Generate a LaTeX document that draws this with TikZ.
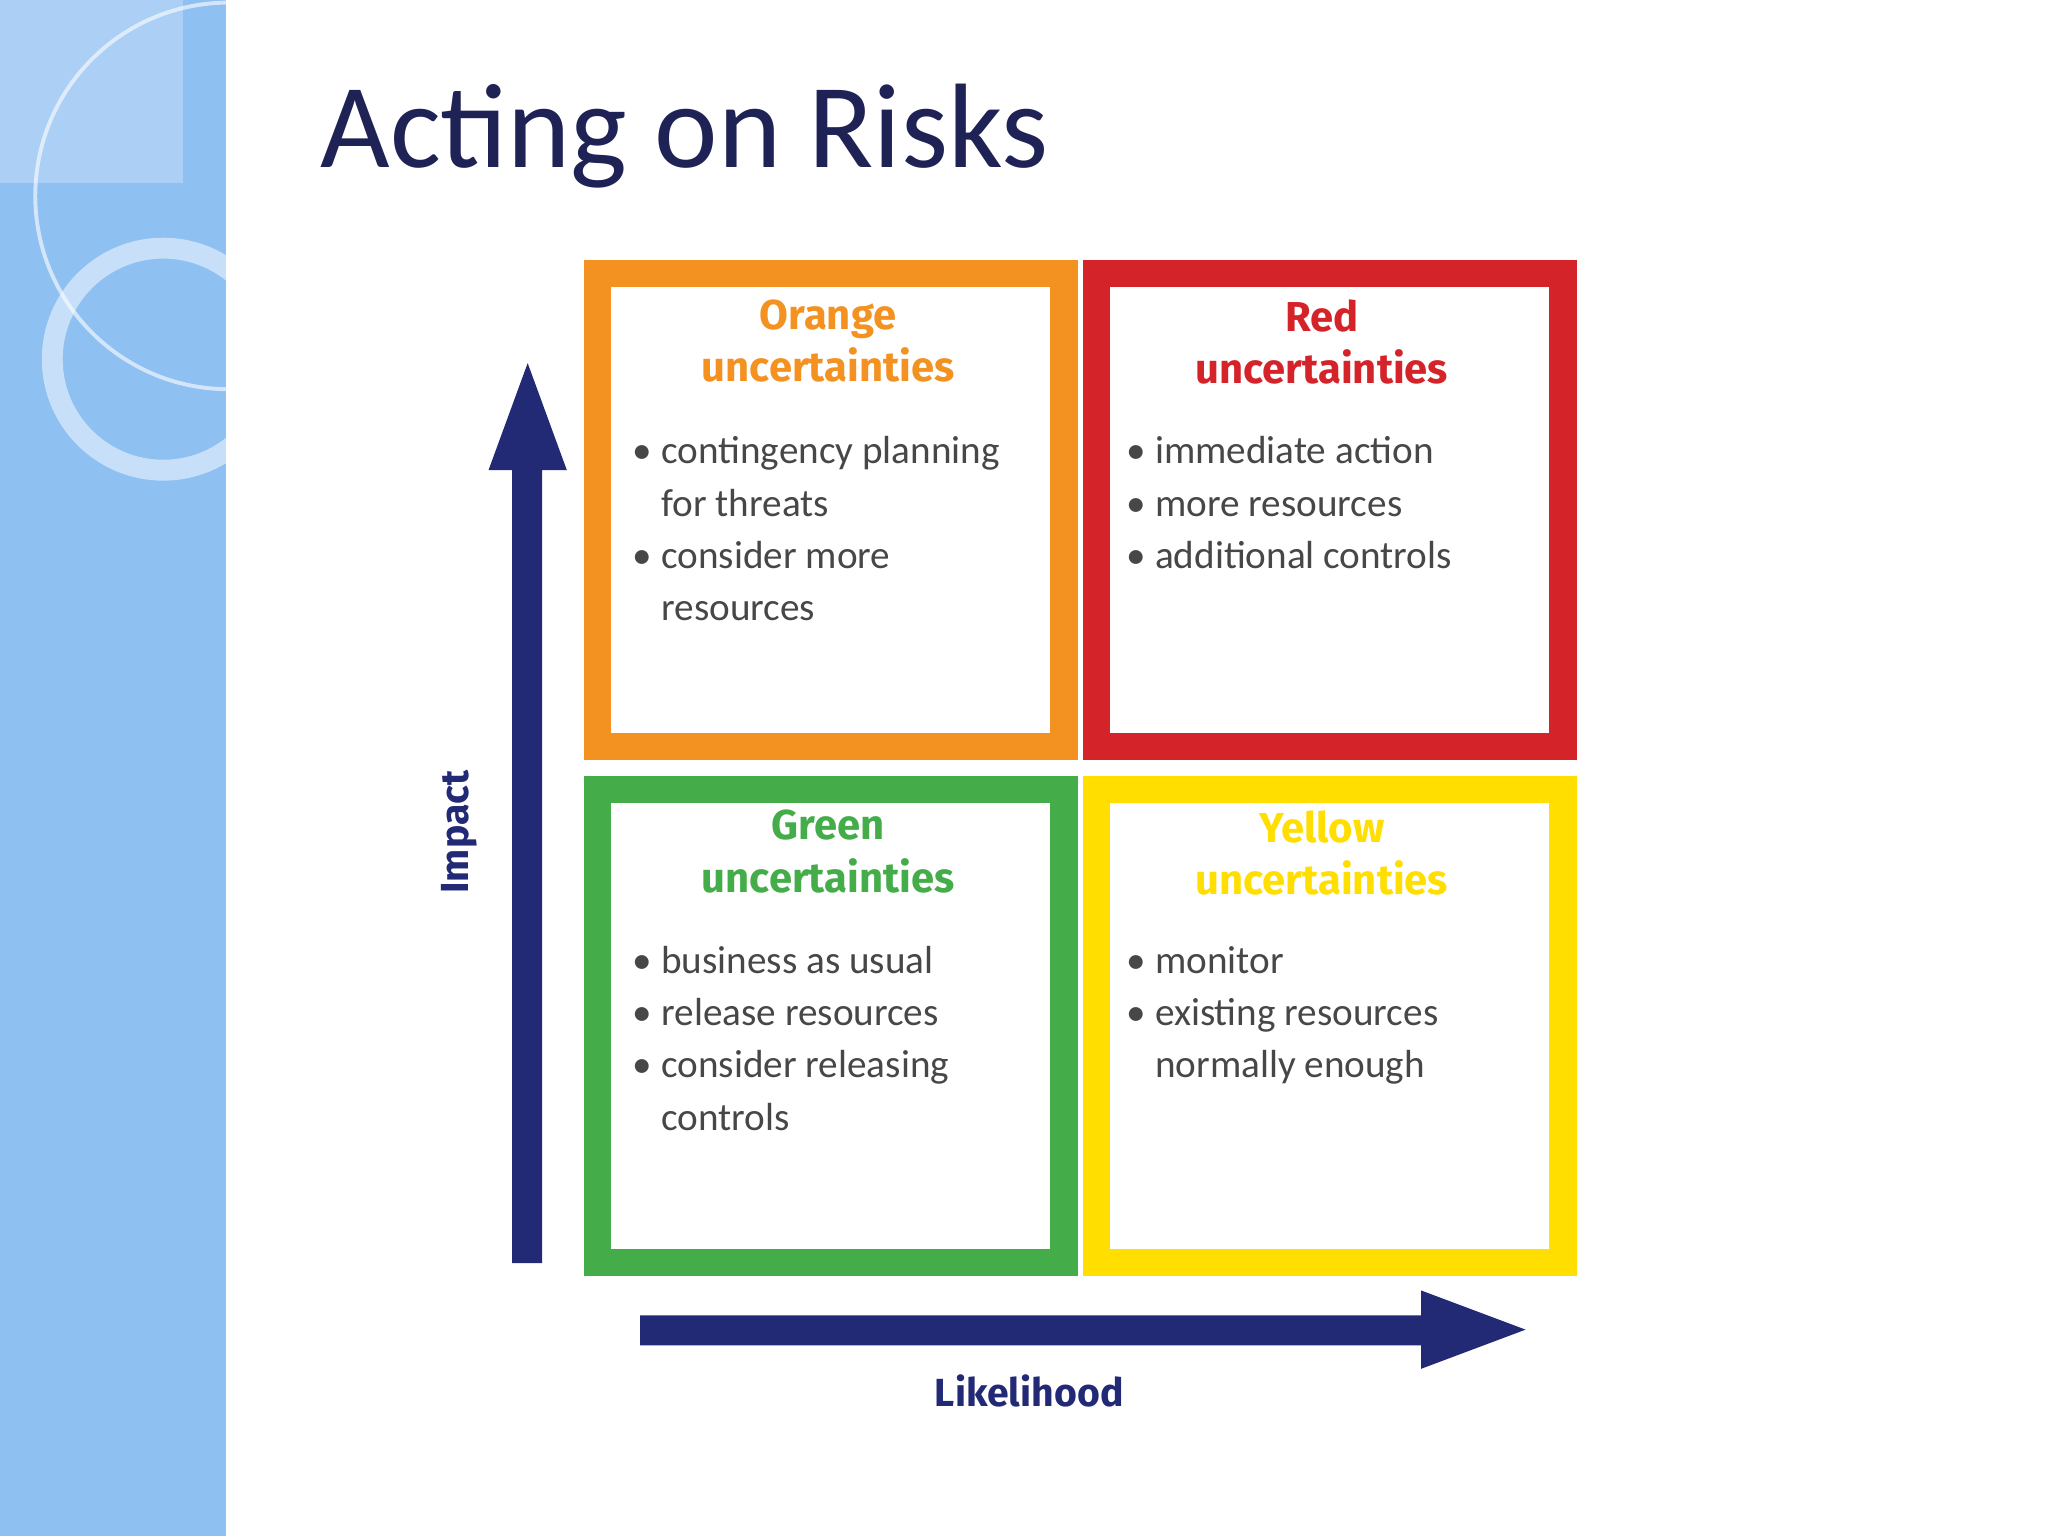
\documentclass[tikz,border=0pt]{standalone}
\usepackage{fontspec}
\setmainfont{Carlito}
\newfontfamily\headf{Fira Sans}
\definecolor{navy}{HTML}{232A75}
\definecolor{ttl}{HTML}{1F2255}
\definecolor{side}{HTML}{8FC0F2}
\definecolor{corange}{HTML}{F39220}
\definecolor{cred}{HTML}{D5232A}
\definecolor{cgreen}{HTML}{44AD4A}
\definecolor{cyellow}{HTML}{FFDE00}
\definecolor{btxt}{HTML}{474747}
\newcommand{\bitem}[1]{\makebox[11pt][l]{\textbullet}#1\\}
\newcommand{\bcont}[1]{\makebox[11pt][l]{}#1\\}
\begin{document}
\begin{tikzpicture}[x=0.5pt,y=-0.5pt,
  quad/.style={draw=#1,line width=10.5pt,fill=white},
  head/.style={text=#1,font=\headf\bfseries\fontsize{16}{20}\selectfont,align=center,anchor=north,inner sep=0},
  blist/.style={anchor=north west,text=btxt,font=\fontsize{15}{20}\selectfont,align=left,inner sep=0},
  axlab/.style={text=navy,font=\headf\bfseries\fontsize{15}{18}\selectfont,inner sep=0}]
\useasboundingbox (0,0) rectangle (1568,1176);
\fill[white] (0,0) rectangle (1568,1176);
\fill[side] (0,0) rectangle (173,1176);
\begin{scope}
\clip (0,0) rectangle (173,1176);
\fill[white,opacity=0.25] (0,0) rectangle (140,140);
\draw[white,opacity=0.6,line width=1.5pt] (175,150) circle (148);
\draw[white,opacity=0.5,line width=8pt] (125,275) circle (85);
\end{scope}
\node[anchor=base west,text=ttl,font=\fontsize{46}{56}\selectfont,inner sep=0] (title) at (245,128) {Acting on Risks};
% quadrants
\draw[quad=corange] (457.5,209.5) rectangle (814.5,571.5);
\draw[quad=cred] (839.5,209.5) rectangle (1196.5,571.5);
\draw[quad=cgreen] (457.5,604.5) rectangle (814.5,966.5);
\draw[quad=cyellow] (839.5,604.5) rectangle (1196.5,966.5);
\node[head=corange] (oh) at (634,229) {Orange\\uncertainties};
\node[head=cred] (rh) at (1012,229) {Red\\uncertainties};
\node[head=cgreen] (gh) at (634,620) {Green\\uncertainties};
\node[head=cyellow] (yh) at (1012,620) {Yellow\\uncertainties};
\node[blist] (ol) at (484,334) {\bitem{contingency planning}\bcont{for threats}\bitem{consider more}\bcont{resources}};
\node[blist] (rl) at (862,334) {\bitem{immediate action}\bitem{more resources}\bitem{additional controls}};
\node[blist] (gl) at (484,724) {\bitem{business as usual}\bitem{release resources}\bitem{consider releasing}\bcont{controls}};
\node[blist] (yl) at (862,724) {\bitem{monitor}\bitem{existing resources}\bcont{normally enough}};
% axes
\fill[navy] (392,967) -- (392,360) -- (374,360) -- (404,278) -- (434,360) -- (415,360) -- (415,967) -- cycle;
\fill[navy] (490,1007) -- (1088,1007) -- (1088,988) -- (1168,1018) -- (1088,1048) -- (1088,1030) -- (490,1030) -- cycle;
\node[axlab,rotate=90] (imp) at (352,637) {Impact};
\node[axlab] (lik) at (788,1065) {Likelihood};
\end{tikzpicture}
\end{document}
